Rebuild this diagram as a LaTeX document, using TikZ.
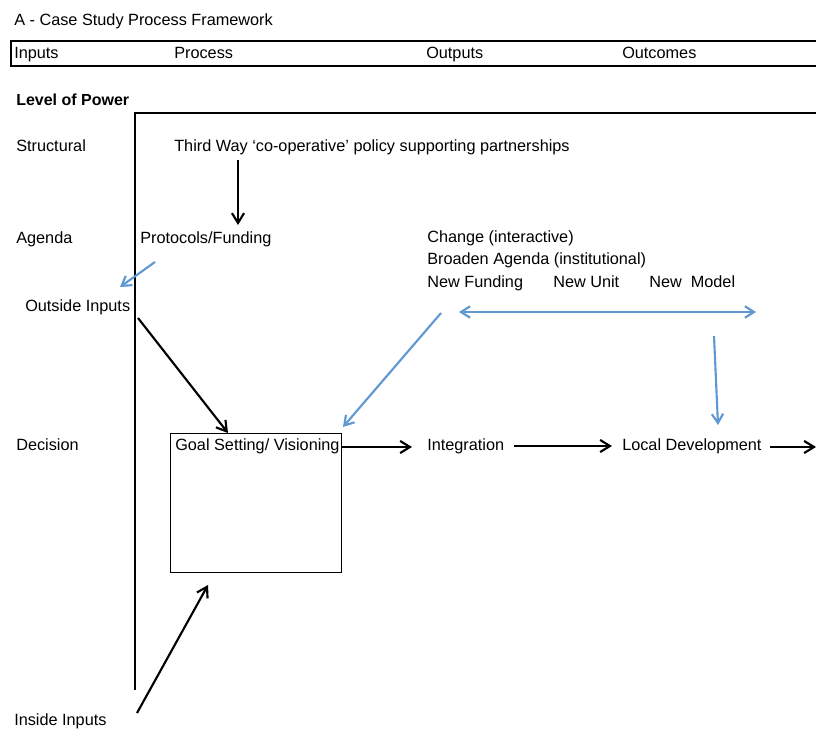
\documentclass[tikz,border=0pt]{standalone}
\usepackage{fontspec}
\setmainfont{Liberation Sans}
\usetikzlibrary{arrows.meta, positioning, calc}
\definecolor{linkblue}{RGB}{96,152,210}

\begin{document}
\begin{tikzpicture}[
    x=0.75pt, y=-0.75pt,
    txt/.style={anchor=base west, inner sep=0pt, font=\fontsize{12.2}{14}\selectfont},
    head/.style={txt, font=\bfseries\fontsize{12}{14}\selectfont},
    goalbox/.style={rectangle, draw, line width=0.8pt, anchor=north west, minimum width=171*0.75pt, minimum height=139*0.75pt},
    arrow/.style={-{Straight Barb[length=2.6mm,width=3.2mm]}, line width=1.6pt},
    bluearrow/.style={-{Straight Barb[length=2.4mm,width=3mm]}, line width=1.6pt, linkblue},
    twoway/.style={{Straight Barb[length=2.4mm,width=3mm]}-{Straight Barb[length=2.4mm,width=3mm]}, line width=1.6pt, linkblue}
]
\useasboundingbox (0,0) rectangle (816,728);

% title and column heads
\node[txt] (title) at (14,26) {A - Case Study Process Framework};
\draw[line width=1.8pt] (816,41) -- (11,41) -- (11,66) -- (816,66);
\node[txt] (inputs) at (14,58) {Inputs};
\node[txt] (process) at (174,58) {Process};
\node[txt] (outputs) at (426,58) {Outputs};
\node[txt] (outcomes) at (622,58) {Outcomes};

% levels of power
\node[head] (power) at (16,105) {Level of Power};
\draw[line width=0.8pt] (135,690) -- (135,113) -- (816,113);
\node[txt] (structural) at (16,151) {Structural};
\node[txt] (agenda) at (16,243) {Agenda};
\node[txt] (decision) at (16,450) {Decision};

% process
\node[txt] (thirdway) at (174,151) {Third Way ‘co-operative’ policy supporting partnerships};
\node[txt] (protocols) at (140,243) {Protocols/Funding};
\node[txt] (outside) at (25,311) {Outside Inputs};
\node[txt] (inside) at (14,725) {Inside Inputs};
\node[goalbox] (goal) at (170,433) {};
\node[txt] (goaltext) at (175,450) {Goal Setting/ Visioning};

% outputs and outcomes
\node[txt] (change) at (427,242) {Change (interactive)};
\node[txt] (broaden) at (427,264) {Broaden Agenda (institutional)};
\node[txt] (funding) at (427,287) {New Funding};
\node[txt] (unit) at (553,287) {New Unit};
\node[txt] (model) at (649,287) {New~~Model};
\node[txt] (integration) at (427,450) {Integration};
\node[txt] (local) at (622,450) {Local Development};

% free ends
\coordinate (policytail) at (238,160);
\coordinate (policyhead) at (238,225);
\coordinate (outtail) at (138,318);
\coordinate (intail) at (137,713);
\coordinate (inhead) at (208,585);
\coordinate (right) at (816,447);
\coordinate (bl) at (459,312);
\coordinate (br) at (756,312);

\draw[arrow] (policytail) -- (policyhead);
\draw[arrow] (outtail) -- (goal.north -| 228,0);
\draw[arrow] (intail) -- (inhead);
\draw[arrow] (goal.north east |- 0,447) -- (412,447);
\draw[arrow] (514,446) -- (612,446);
\draw[arrow] (770,447) -- (right);
\draw[bluearrow] (155,262) -- (120,287);
\draw[twoway] (bl) -- (br);
\draw[bluearrow] (441,313) -- (343,427);
\draw[bluearrow] (714,336) -- (718,425);
\end{tikzpicture}
\end{document}
